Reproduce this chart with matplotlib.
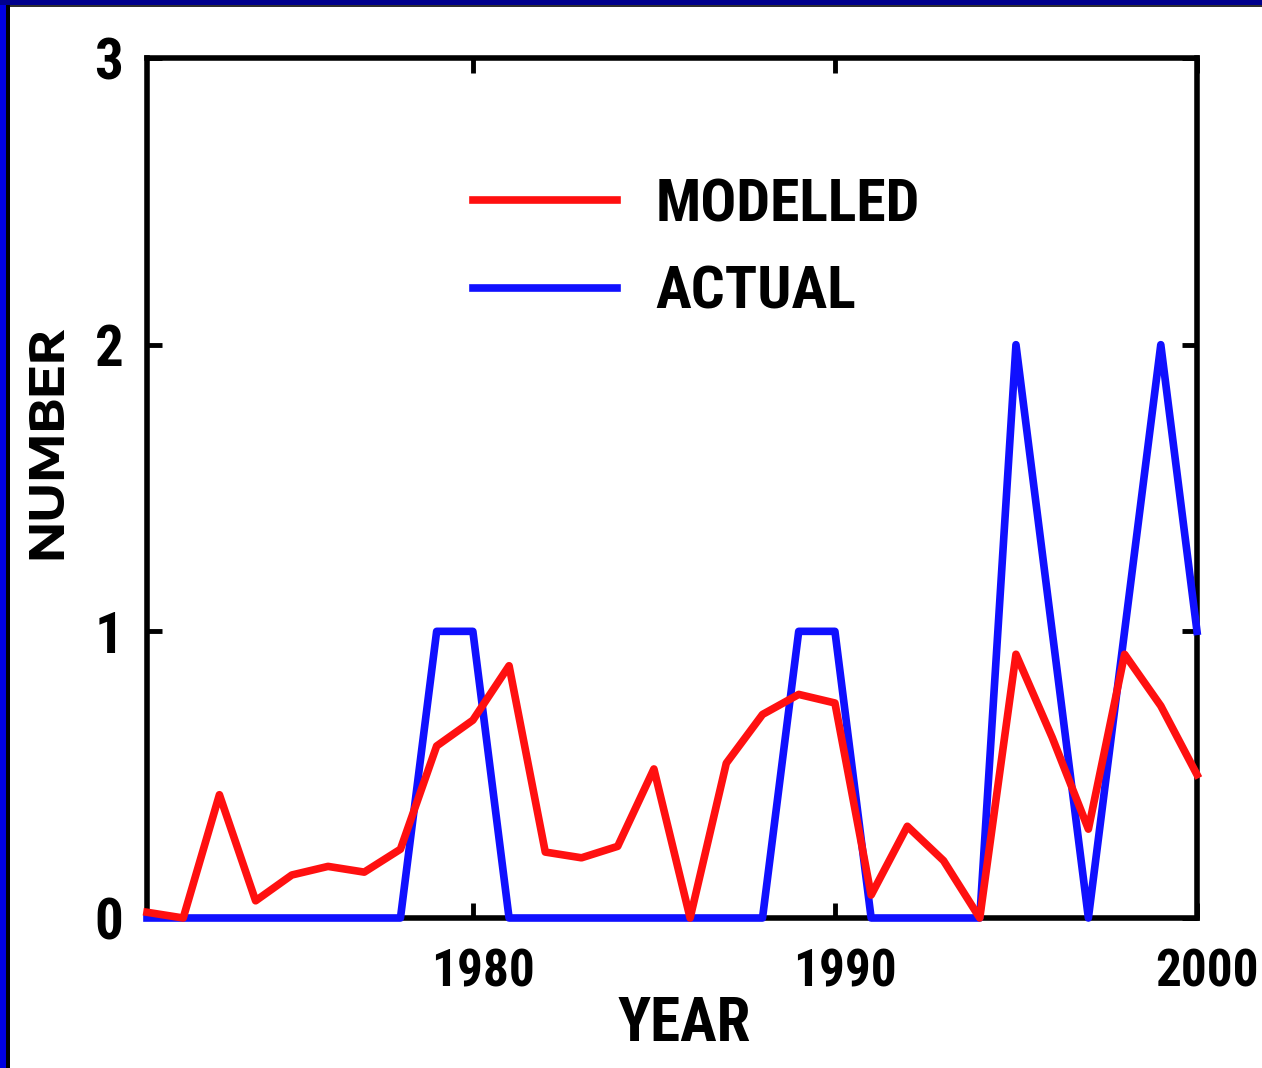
import matplotlib
matplotlib.use("Agg")
import matplotlib.pyplot as plt
import numpy as np
from matplotlib.patches import Rectangle
from matplotlib.transforms import ScaledTranslation

years = list(range(1971, 2001))
modelled = [0.02, 0.0, 0.43, 0.06, 0.15, 0.18, 0.16, 0.24, 0.60, 0.69,
            0.88, 0.23, 0.21, 0.25, 0.52, 0.0, 0.54, 0.71, 0.78, 0.75,
            0.08, 0.32, 0.20, 0.0, 0.92, 0.63, 0.31, 0.92, 0.74, 0.50]
actual = [0, 0, 0, 0, 0, 0, 0, 0, 1, 1,
          0, 0, 0, 0, 0, 0, 0, 0, 1, 1,
          0, 0, 0, 0, 2, 1, 0, 1, 2, 1]
xticks = [1980, 1990, 2000]
yticks = [0, 1, 2, 3]

COND = ['Roboto Condensed', 'Liberation Sans', 'DejaVu Sans']
WIDE = ['Encode Sans Expanded', 'DejaVu Sans']
plt.rcParams['font.family'] = COND
plt.rcParams['font.weight'] = 'bold'

W, H = 1262, 1068
fig = plt.figure(figsize=(W / 100, H / 100), dpi=100)
fig.patch.set_facecolor('white')

# frame decoration (slide border)
fig.add_artist(Rectangle((0, 0), 6 / W, 1, transform=fig.transFigure,
                         facecolor='#0000E0', edgecolor='none', zorder=0))
fig.add_artist(Rectangle((6 / W, 0), 4 / W, 1, transform=fig.transFigure,
                         facecolor='black', edgecolor='none', zorder=0))
fig.add_artist(Rectangle((0, 1 - 5 / H), 1, 5 / H, transform=fig.transFigure,
                         facecolor='#00008C', edgecolor='none', zorder=1))
fig.add_artist(Rectangle((10 / W, 1 - 7 / H), 1, 2 / H, transform=fig.transFigure,
                         facecolor='#303030', edgecolor='none', zorder=1))

ax = fig.add_axes([147 / W, 150 / H, 1050 / W, 860 / H])
ax.plot(years, actual, color='#1010FF', lw=5.5, label='ACTUAL', zorder=3, clip_on=False)
ax.plot(years, modelled, color='#FF1010', lw=5.5, label='MODELLED', zorder=4, clip_on=False)

ax.set_xlim(1971, 2000)
ax.set_ylim(0, 3)
ax.set_xticks(xticks)
ax.set_yticks(yticks)
ax.tick_params(direction='in', length=11, width=3.5, top=True, right=True)
ax.tick_params(axis='x', pad=21, labelsize=37)
ax.tick_params(axis='y', pad=17, labelsize=41)
shift = ScaledTranslation(10 / 100, 0, fig.dpi_scale_trans)
for lab in ax.get_xticklabels():
    lab.set_fontweight('bold')
    lab.set_transform(lab.get_transform() + shift)
for lab in ax.get_yticklabels():
    lab.set_fontweight('bold')
for s in ax.spines.values():
    s.set_linewidth(4)

ax.set_xlabel('YEAR', fontsize=44, fontweight='bold', va='top')
ax.xaxis.set_label_coords((684 - 147) / 1050, -(995 - 918) / 860)
ax.set_ylabel('NUMBER', fontsize=34, fontweight='bold', family=WIDE,
              ha='center', va='center')
ax.yaxis.set_label_coords((47 - 147) / 1050, (918 - 442) / 860)

handles, labels = ax.get_legend_handles_labels()
leg = ax.legend(handles[::-1], labels[::-1], loc='upper left',
                bbox_to_anchor=((473 - 147) / 1050, (918 - 177) / 860),
                frameon=False, fontsize=43,
                handlelength=2.41, handletextpad=0.64, labelspacing=0.53,
                borderpad=0, borderaxespad=0)
for t in leg.get_texts():
    t.set_fontweight('bold')

fig.savefig('out.png', dpi=100)
